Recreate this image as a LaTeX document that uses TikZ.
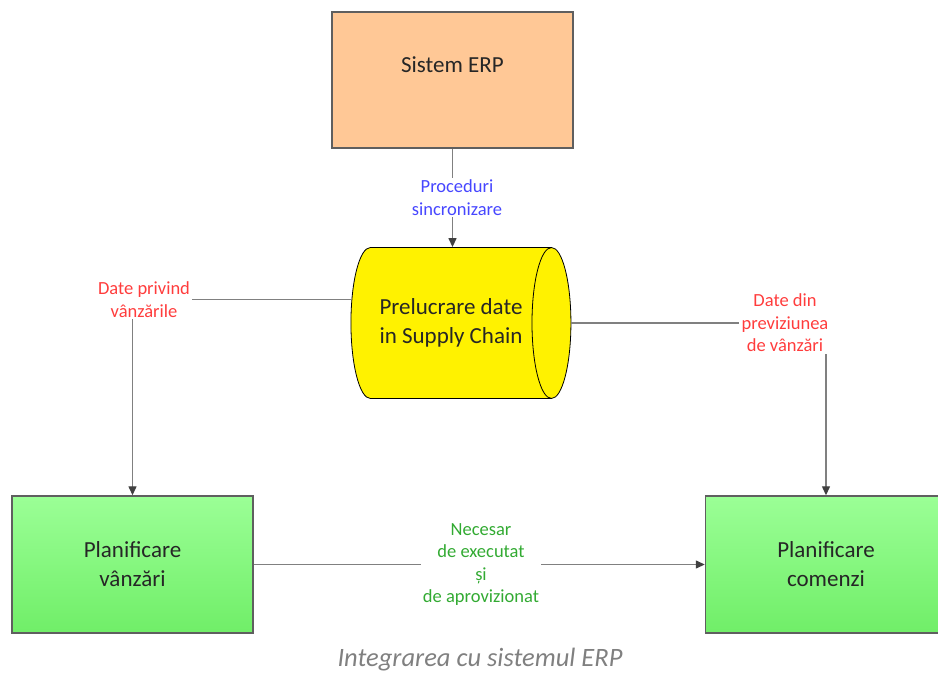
\documentclass[tikz,border=0pt]{standalone}
\usepackage{fontspec}
\setmainfont{Carlito}
\usetikzlibrary{shapes.geometric,arrows.meta}

\definecolor{erporange}{RGB}{255,200,150}
\definecolor{plangreenA}{RGB}{155,255,150}
\definecolor{plangreenB}{RGB}{112,238,104}
\definecolor{boxgray}{RGB}{95,95,95}
\definecolor{linegray}{RGB}{128,128,128}
\definecolor{tipgray}{RGB}{64,64,64}
\definecolor{procblue}{RGB}{70,70,255}
\definecolor{datared}{RGB}{255,60,60}
\definecolor{needgreen}{RGB}{50,170,50}
\definecolor{captiongray}{RGB}{128,128,128}

\tikzset{
  bigtext/.style={font=\fontsize{23}{29}\selectfont, text=black!85, align=center},
  erpbox/.style={bigtext, draw=boxgray, line width=1.4pt, fill=erporange,
    minimum width=241pt, minimum height=136pt, text depth=30pt},
  planbox/.style={bigtext, draw=boxgray, line width=1.4pt,
    top color=plangreenA, bottom color=plangreenB,
    minimum width=241pt, minimum height=137pt},
  procdrum/.style={bigtext, shape=cylinder, shape aspect=0.8, draw=black,
    line width=0.8pt, fill=yellow, minimum width=151pt, minimum height=220pt,
    inner sep=0pt},
  flowlabel/.style={font=\fontsize{18.5}{22.5}\selectfont, align=center, inner sep=2pt},
  connector/.style={draw=linegray, line width=1.3pt},
  >={Triangle[length=9pt,width=8pt,color=tipgray]}
}

\begin{document}
\begin{tikzpicture}[x=1pt,y=-1pt]
  \useasboundingbox (0,0) rectangle (938,677);
  \clip (0,0) rectangle (938,677);
  % blocks
  \node[erpbox] (erp) at (452.5,80) {Sistem ERP};
  \node[procdrum] (proc) at (451,323) {Prelucrare date\\in Supply Chain};
  \node[planbox] (pv) at (132.5,564.5) {Planificare\\vânzări};
  \node[planbox] (pc) at (826,564.5) {Planificare\\comenzi};
  % labels on the flows
  \node[flowlabel, text=procblue] (sync) at (457,197.5) {Proceduri\\sincronizare};
  \node[flowlabel, text=datared] (salesdata) at (144,299.5) {Date privind\\vânzările};
  \node[flowlabel, text=datared] (fcast) at (785,323) {Date din\\previziunea\\de vânzări};
  \node[flowlabel, text=needgreen] (need) at (481,564.5) {Necesar\\de executat\\și\\de aprovizionat};
  \node[font=\fontsize{26.5}{30}\selectfont\itshape, text=captiongray] (caption) at (480,660) {Integrarea cu sistemul ERP};
  % flows
  \path[connector]
    (erp.south) edge (erp.south |- sync.north)
    (sync.south -| erp.south) edge[->] (erp.south |- proc.north)
    (salesdata) edge (salesdata -| proc.west)
    (salesdata.south -| pv.north) edge[->] (pv.north)
    (proc.east) edge (fcast)
    (fcast.south -| pc.north) edge[->] (pc.north)
    (pv) edge (need)
    (need) edge[->] (pc);
\end{tikzpicture}
\end{document}
